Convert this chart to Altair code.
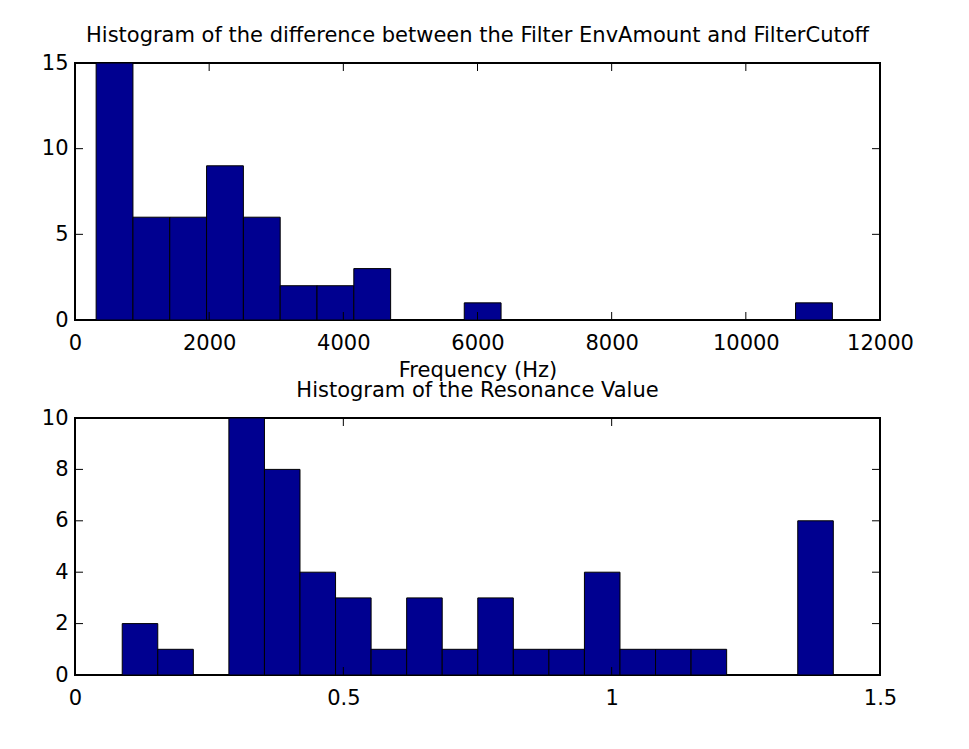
import altair as alt
import numpy as np
import pandas as pd

# Histogram 1: difference between Filter EnvAmount and FilterCutoff (Hz), 20 bins
diff_counts = [15, 6, 6, 9, 6, 2, 2, 3, 0, 0, 1, 0, 0, 0, 0, 0, 0, 0, 0, 1]
diff_range = (315, 11290)
diff_xticks = [0, 2000, 4000, 6000, 8000, 10000, 12000]
diff_yticks = [0, 5, 10, 15]

# Histogram 2: resonance value, 20 bins
res_counts = [2, 1, 0, 10, 8, 4, 3, 1, 3, 1, 3, 1, 1, 4, 1, 1, 1, 0, 0, 6]
res_range = (0.088, 1.413)
res_xticks = [0, 0.5, 1, 1.5]
res_yticks = [0, 2, 4, 6, 8, 10]

W, H = 805, 257
TICK = 8
FONT = "DejaVu Sans"
FS = 21
BAR = "#000090"
PLAIN = "'' + datum.value"   # plain number text, no grouping or exponent


def bin_table(counts, lo, hi):
    edges = np.linspace(lo, hi, len(counts) + 1)
    return pd.DataFrame({"x0": edges[:-1], "x1": edges[1:],
                         "count": counts, "base": 0})


def panel(counts, rng, xdom, ydom, xticks, yticks, title, xtitle=None):
    df = bin_table(counts, *rng)
    xs = alt.Scale(domain=xdom, nice=False, zero=False)
    ys = alt.Scale(domain=ydom, nice=False)

    xkw = dict(values=xticks, labelExpr=PLAIN, labelPadding=12, labelFlush=False,
               labelOverlap=False, labelBound=False)
    if xtitle:
        xkw.update(title=xtitle, titlePadding=6)
    else:
        xkw.update(title=None)
    xaxis = alt.Axis(**xkw)
    yaxis = alt.Axis(values=yticks, labelExpr=PLAIN, title=None, labelPadding=7,
                     labelFlush=False, labelOverlap=False,
                     labelBaseline="middle")

    bars = alt.Chart(df).mark_rect(fill=BAR, stroke="black", strokeWidth=1).encode(
        x=alt.X("x0:Q", scale=xs, axis=xaxis),
        x2="x1",
        y=alt.Y("count:Q", scale=ys, axis=yaxis),
        y2="base",
    )

    xt = pd.DataFrame({"v": xticks})
    yt = pd.DataFrame({"v": yticks})
    rule = dict(color="black", strokeWidth=1)

    # inward tick marks on all four sides of the box
    x_bottom = alt.Chart(xt).mark_rule(**rule).encode(
        x=alt.X("v:Q", scale=xs, axis=xaxis),
        y=alt.value(H), y2=alt.value(H - TICK))
    x_top = alt.Chart(xt).mark_rule(**rule).encode(
        x=alt.X("v:Q", scale=xs, axis=xaxis),
        y=alt.value(0), y2=alt.value(TICK))
    y_left = alt.Chart(yt).mark_rule(**rule).encode(
        y=alt.Y("v:Q", scale=ys, axis=yaxis),
        x=alt.value(0), x2=alt.value(TICK))
    y_right = alt.Chart(yt).mark_rule(**rule).encode(
        y=alt.Y("v:Q", scale=ys, axis=yaxis),
        x=alt.value(W), x2=alt.value(W - TICK))

    return alt.layer(bars, x_bottom, x_top, y_left, y_right).properties(
        width=W, height=H,
        title=alt.TitleParams(title, font=FONT, fontSize=FS, fontWeight="normal",
                              color="black", anchor="middle",
                              baseline="alphabetic", offset=-11),
    )


top = panel(diff_counts, diff_range, [0, 12000], [0, 15], diff_xticks, diff_yticks,
            "Histogram of the difference between the Filter EnvAmount and FilterCutoff",
            "Frequency (Hz)")
bottom = panel(res_counts, res_range, [0, 1.5], [0, 10], res_xticks, res_yticks,
               "Histogram of the Resonance Value")

chart = alt.vconcat(top, bottom, spacing=98, bounds="flush").properties(
    padding={"left": 40, "top": 24, "right": 10, "bottom": 10},
    background="white",
).configure_view(
    stroke="black", strokeWidth=2
).configure_axis(
    domain=False, ticks=False, grid=False,
    labelFont=FONT, labelFontSize=FS, labelColor="black",
    titleFont=FONT, titleFontSize=FS, titleFontWeight="normal", titleColor="black",
)

chart.save("out.html", embed_options={"renderer": "svg", "actions": False})
